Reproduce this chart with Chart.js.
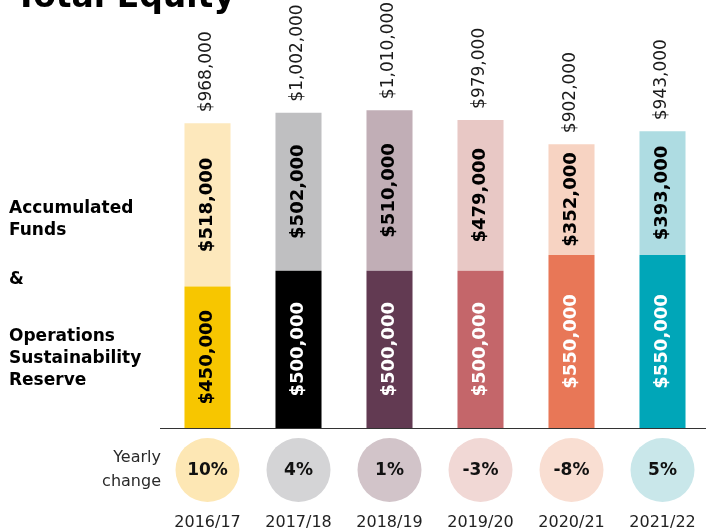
<!DOCTYPE html>
<html lang="en">
<head>
    <meta charset="UTF-8">
    <title>Total Equity</title>
    <script src="https://cdn.jsdelivr.net/npm/chart.js"></script>
    <style>
        body {
            margin: 0;
            background: #ffffff;
            overflow: hidden;
        }
        #equityChart {
            display: block;
        }
    </style>
</head>
<body>
    <canvas id="equityChart" width="708" height="532"></canvas>

    <script>
        // Figures per financial year
        const years = ['2016/17', '2017/18', '2018/19', '2019/20', '2020/21', '2021/22'];
        const reserve = [450000, 500000, 500000, 500000, 550000, 550000];
        const accumulated = [518000, 502000, 510000, 479000, 352000, 393000];
        const yearlyChange = [10, 4, 1, -3, -8, 5];

        const reserveColors = ['#F7C600', '#000000', '#623A52', '#C4666A', '#E87757', '#00A6B8'];
        const accumulatedColors = ['#FDE8BC', '#BFBFC1', '#C1AEB6', '#E8C8C5', '#F7D3C2', '#AEDCE2'];
        const circleColors = ['#FDE7B4', '#D4D4D6', '#D2C4C9', '#F1D8D5', '#F9DED2', '#C9E7EA'];
        const reserveTextColors = ['#000', '#fff', '#fff', '#fff', '#fff', '#fff'];

        const FONT = '"DejaVu Sans", sans-serif';
        const money = v => '$' + v.toLocaleString('en-US');

        // Rotated text helper
        function vText(ctx, text, x, y, align) {
            ctx.save();
            ctx.translate(x, y);
            ctx.rotate(-Math.PI / 2);
            ctx.textAlign = align;
            ctx.textBaseline = 'middle';
            ctx.fillText(text, 0, 0);
            ctx.restore();
        }

        const decorations = {
            id: 'decorations',
            afterDatasetsDraw(chart) {
                const ctx = chart.ctx;
                const lower = chart.getDatasetMeta(0).data;
                const upper = chart.getDatasetMeta(1).data;

                ctx.save();
                ctx.font = 'bold 18px ' + FONT;
                lower.forEach((bar, i) => {
                    ctx.fillStyle = reserveTextColors[i];
                    vText(ctx, money(reserve[i]), bar.x, (bar.y + bar.base) / 2, 'center');
                });
                upper.forEach((bar, i) => {
                    ctx.fillStyle = '#000';
                    vText(ctx, money(accumulated[i]), bar.x, (bar.y + bar.base) / 2, 'center');
                });

                // totals above each column
                ctx.font = '17px ' + FONT;
                ctx.fillStyle = '#1a1a1a';
                upper.forEach((bar, i) => {
                    vText(ctx, money(reserve[i] + accumulated[i]), bar.x - 1, bar.y - 11, 'left');
                });
                ctx.restore();
            },
            afterDraw(chart) {
                const ctx = chart.ctx;
                const x = chart.scales.x;
                const base = chart.scales.y.getPixelForValue(0);

                ctx.save();
                // baseline
                ctx.strokeStyle = '#333';
                ctx.lineWidth = 1.2;
                ctx.beginPath();
                ctx.moveTo(160, base + 0.5);
                ctx.lineTo(chart.width, base + 0.5);
                ctx.stroke();

                // title
                ctx.fillStyle = '#000';
                ctx.font = 'bold 33px ' + FONT;
                ctx.textBaseline = 'alphabetic';
                ctx.textAlign = 'left';
                ctx.fillText('Total Equity', 15, 7);

                // side captions
                ctx.font = 'bold 17px ' + FONT;
                [['Accumulated', 213], ['Funds', 235], ['&', 284],
                 ['Operations', 341], ['Sustainability', 363], ['Reserve', 385]]
                    .forEach(([t, y]) => ctx.fillText(t, 9, y));

                ctx.font = '16px ' + FONT;
                ctx.fillStyle = '#2a2a2a';
                ctx.textAlign = 'right';
                ctx.fillText('Yearly', 161, 462);
                ctx.fillText('change', 161, 486);

                // yearly change bubbles and year labels
                const cy = base + 42;
                ctx.textAlign = 'center';
                ctx.textBaseline = 'middle';
                yearlyChange.forEach((v, i) => {
                    const cx = x.getPixelForValue(i);
                    ctx.fillStyle = circleColors[i];
                    ctx.beginPath();
                    ctx.arc(cx, cy, 32, 0, Math.PI * 2);
                    ctx.fill();
                    ctx.fillStyle = '#111';
                    ctx.font = 'bold 17px ' + FONT;
                    ctx.fillText(v + '%', cx, cy + 1);
                    ctx.fillStyle = '#222';
                    ctx.font = '16px ' + FONT;
                    ctx.fillText(x.getLabelForValue(i), cx, base + 95);
                });
                ctx.restore();
            }
        };

        const ctx = document.getElementById('equityChart').getContext('2d');
        new Chart(ctx, {
            type: 'bar',
            data: {
                labels: years,
                datasets: [
                    {
                        label: 'Operations Sustainability Reserve',
                        data: reserve,
                        backgroundColor: reserveColors,
                        borderWidth: 0
                    },
                    {
                        label: 'Accumulated Funds',
                        data: accumulated,
                        backgroundColor: accumulatedColors,
                        borderWidth: 0
                    }
                ]
            },
            options: {
                responsive: false,
                animation: false,
                layout: { padding: { left: 162, right: 0, top: 0, bottom: 104 } },
                datasets: {
                    bar: { barPercentage: 0.506, categoryPercentage: 1 }
                },
                plugins: {
                    legend: { display: false },
                    tooltip: { enabled: false }
                },
                scales: {
                    x: {
                        stacked: true,
                        display: false
                    },
                    y: {
                        stacked: true,
                        display: false,
                        min: 0,
                        max: 1360000
                    }
                }
            },
            plugins: [decorations]
        });
    </script>
</body>
</html>
